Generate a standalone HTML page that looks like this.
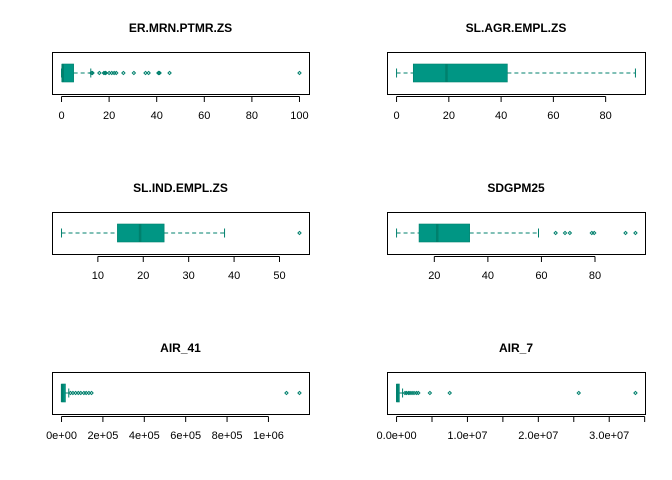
<!DOCTYPE html>
<html><head><meta charset="utf-8"><style>
body{margin:0;background:#fff;}
svg{display:block;font-family:"Liberation Sans",Arial,sans-serif;}
</style></head><body>
<svg id="chart" width="672" height="480" viewBox="0 0 672 480"></svg>
<script>
const titles = ["ER.MRN.PTMR.ZS","SL.AGR.EMPL.ZS","SL.IND.EMPL.ZS","SDGPM25","AIR_41","AIR_7"];
const stats = [
  [0, 0.2, 0.5, 5.1, 12.3],
  [0, 6.4, 19.1, 42.4, 91.4],
  [2.0, 14.3, 19.3, 24.6, 37.9],
  [5.9, 14.3, 21.1, 33.2, 58.9],
  [0, 0, 3000, 19000, 35000],
  [0, 0, 100000, 400000, 850000]
];
const outliers = [
  [12.5,13,15.9,17.8,18.3,18.6,20,21.1,22.1,23,26,30.4,35.3,36.6,40.7,40.9,41.2,45.4,100],
  [],
  [54.4],
  [65.3,68.8,70.6,78.8,79.7,91.4,95.1],
  [43000,55000,68000,81000,93000,108000,119000,132000,145000,1087000,1150000],
  [1190000,1410000,1700000,1900000,2180000,2460000,2790000,3070000,4700000,7500000,25700000,33700000]
];
const ticks = [
  [0,20,40,60,80,100],
  [0,20,40,60,80],
  [10,20,30,40,50],
  [20,40,60,80],
  [0,200000,400000,600000,800000,1000000],
  [0,5000000,10000000,15000000,20000000,25000000,30000000,35000000]
];
const tickLabels = [
  ["0","20","40","60","80","100"],
  ["0","20","40","60","80"],
  ["10","20","30","40","50"],
  ["20","40","60","80"],
  ["0e+00","2e+05","4e+05","6e+05","8e+05","1e+06"],
  ["0.0e+00","","1.0e+07","","2.0e+07","","3.0e+07",""]
];
const svg = document.getElementById('chart');
const NS = "http://www.w3.org/2000/svg";
function mk(tag, attrs, parent){const e=document.createElementNS(NS,tag);for(const k in attrs)e.setAttribute(k,attrs[k]);parent.appendChild(e);return e;}
const FILL="#009684", DARK="#00806d";
for(let i=0;i<6;i++){
  const col=i%2,row=Math.floor(i/2);
  const L=col?387:52, R=col?645:309, T=52+row*160, B=T+42, cy=(T+B)/2;
  const g=mk('g',{},svg);
  
  
  const all=stats[i].concat(outliers[i]);
  const mn=Math.min(...all), mx=Math.max(...all), r=mx-mn;
  const d0=mn-0.04*r, d1=mx+0.04*r;
  const x=v=>L+(v-d0)/(d1-d0)*(R-L);
  const t=mk('text',{x:(L+R)/2,y:T-20,'text-anchor':'middle','font-size':'12','font-weight':'bold',fill:'#000'},g);
  t.textContent=titles[i];
  
  
  const fr=mk('rect',{x:L+0.5,y:T+0.5,width:R-L,height:B-T,fill:'none',stroke:'#000','stroke-width':1},g);
  
  
  const s=stats[i];
  const wl=mk('line',{x1:x(s[0]),x2:x(s[1]),y1:cy,y2:cy,stroke:DARK,'stroke-dasharray':'4,3'},g);
  
  
  const wu=mk('line',{x1:x(s[3]),x2:x(s[4]),y1:cy,y2:cy,stroke:DARK,'stroke-dasharray':'4,3'},g);
  
  
  [s[0],s[4]].forEach(v=>{const c=mk('line',{x1:x(v),x2:x(v),y1:cy-4.5,y2:cy+4.5,stroke:DARK},g);
    
    });
  const bx=mk('rect',{x:x(s[1]),y:cy-9,width:Math.max(x(s[3])-x(s[1]),2),height:18,fill:FILL,stroke:DARK,'stroke-width':0.6},g);
  
  
  const md=mk('line',{x1:x(s[2]),x2:x(s[2]),y1:cy-9,y2:cy+9,stroke:DARK,'stroke-width':2.5},g);
  
  
  outliers[i].forEach(v=>{const px=x(v);
    const p=mk('polygon',{points:`${px},${cy-1.6} ${px+1.6},${cy} ${px},${cy+1.6} ${px-1.6},${cy}`,fill:'none',stroke:DARK,'stroke-width':1},g);
    
    });
  const tk=ticks[i];
  const ax=mk('line',{x1:x(tk[0]),x2:x(tk[tk.length-1]),y1:B+2.5,y2:B+2.5,stroke:'#000'},g);
  
  
  tk.forEach((v,j)=>{
    const tl=mk('line',{x1:x(v),x2:x(v),y1:B+2.5,y2:B+8,stroke:'#000'},g);
    
    
    if(tickLabels[i][j]){
      const lb=mk('text',{x:x(v),y:B+25,'text-anchor':'middle','font-size':'11',fill:'#000'},g);
      lb.textContent=tickLabels[i][j];
      
      
    }
  });
}
</script>
</body></html>
